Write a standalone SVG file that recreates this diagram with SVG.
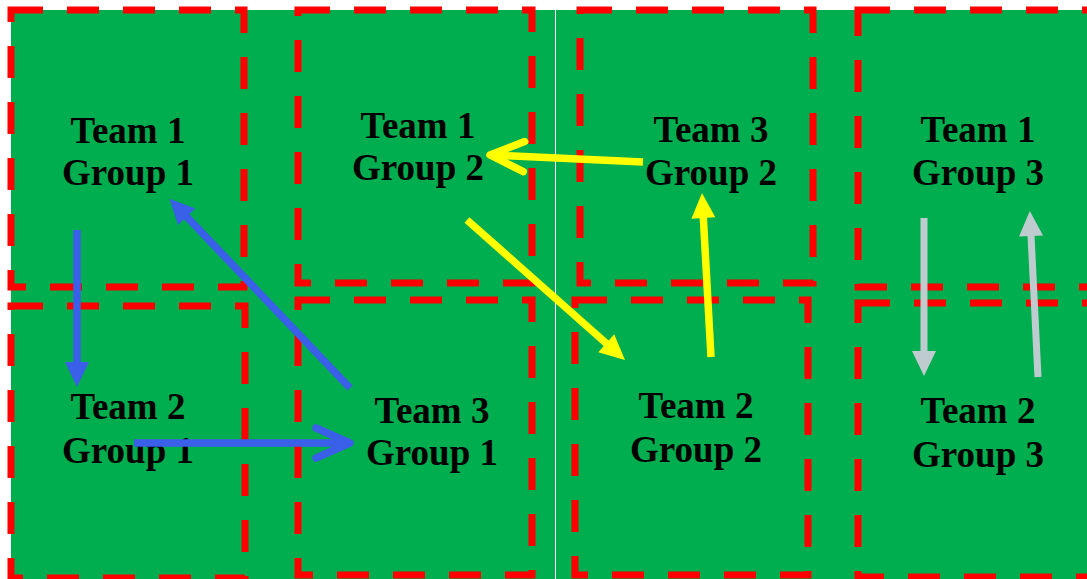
<svg xmlns="http://www.w3.org/2000/svg" width="1087" height="579" viewBox="0 0 1087 579">
<style>
.cell{fill:none;stroke:#FF0000;stroke-width:7;stroke-dasharray:32 24}
.lbl{font-family:"Liberation Serif","Times New Roman",serif;font-weight:bold;font-size:37px;fill:#000;text-anchor:middle}
.blue{stroke:#3A5FE8;stroke-width:7.5;fill:none}
.yel{stroke:#FFFF00;stroke-width:7.5;fill:none}
.gray{stroke:#BFCCCF;stroke-width:7;fill:none}
</style>
<defs>
<marker id="hb" markerUnits="userSpaceOnUse" markerWidth="26" markerHeight="24" refX="1" refY="12" orient="auto" overflow="visible"><path d="M0,0 L25,12 L0,24 z" fill="#3A5FE8"/></marker>
<marker id="hy" markerUnits="userSpaceOnUse" markerWidth="26" markerHeight="24" refX="1" refY="12" orient="auto" overflow="visible"><path d="M0,0 L25,12 L0,24 z" fill="#FFFF00"/></marker>
<marker id="hg" markerUnits="userSpaceOnUse" markerWidth="26" markerHeight="24" refX="1" refY="12" orient="auto" overflow="visible"><path d="M0,0 L25,12 L0,24 z" fill="#BFCCCF"/></marker>
<marker id="cb" markerUnits="userSpaceOnUse" markerWidth="40" markerHeight="36" refX="36" refY="17" orient="auto" overflow="visible"><path d="M2,2 L36,17 L2,32" fill="none" stroke="#3A5FE8" stroke-width="7.5" stroke-linecap="round" stroke-linejoin="round"/></marker>
<marker id="cy" markerUnits="userSpaceOnUse" markerWidth="40" markerHeight="36" refX="36" refY="17" orient="auto" overflow="visible"><path d="M2,2 L36,17 L2,32" fill="none" stroke="#FFFF00" stroke-width="7.5" stroke-linecap="round" stroke-linejoin="round"/></marker>
</defs>
<rect x="0" y="0" width="1087" height="579" fill="#FFFFFF"/>
<rect x="11" y="10" width="1076" height="569" fill="#00AD4F"/>
<line x1="555.5" y1="10" x2="555.5" y2="579" stroke="#FFFFFF" stroke-width="1"/>
<g id="t1g1"><rect class="cell" x="11" y="10" width="233" height="277"/><text class="lbl" x="128" y="143">Team 1</text><text class="lbl" x="128" y="185">Group 1</text></g>
<g id="t1g2"><rect class="cell" x="298" y="10" width="234" height="273"/><text class="lbl" x="418" y="138">Team 1</text><text class="lbl" x="418" y="180">Group 2</text></g>
<g id="t3g2"><rect class="cell" x="580" y="10" width="233" height="273"/><text class="lbl" x="711" y="142">Team 3</text><text class="lbl" x="711" y="185">Group 2</text></g>
<g id="t1g3"><rect class="cell" x="858" y="10" width="240" height="277"/><text class="lbl" x="978" y="142">Team 1</text><text class="lbl" x="978" y="185">Group 3</text></g>
<g id="t2g1"><rect class="cell" x="11" y="306" width="234" height="272"/><text class="lbl" x="128" y="419">Team 2</text><text class="lbl" x="128" y="463">Group 1</text></g>
<g id="t3g1"><rect class="cell" x="298" y="300" width="234" height="275"/><text class="lbl" x="432" y="423">Team 3</text><text class="lbl" x="432" y="465">Group 1</text></g>
<g id="t2g2"><rect class="cell" x="575" y="300" width="233" height="275"/><text class="lbl" x="696" y="418">Team 2</text><text class="lbl" x="696" y="462">Group 2</text></g>
<g id="t2g3"><rect class="cell" x="858" y="303" width="240" height="274"/><text class="lbl" x="978" y="423">Team 2</text><text class="lbl" x="978" y="467">Group 3</text></g>
<g id="connectors">
<line class="blue" x1="77" y1="230" x2="77" y2="363" marker-end="url(#hb)"/>
<line class="blue" x1="350" y1="388" x2="186" y2="216" marker-end="url(#hb)"/>
<line class="blue" x1="134" y1="443" x2="350" y2="443" marker-end="url(#cb)"/>
<line class="yel" x1="643" y1="162" x2="490" y2="155" marker-end="url(#cy)"/>
<line class="yel" x1="467" y1="220" x2="607" y2="344" marker-end="url(#hy)"/>
<line class="yel" x1="711" y1="357" x2="703.3" y2="217" marker-end="url(#hy)"/>
<line class="gray" x1="924" y1="218" x2="924" y2="352" marker-end="url(#hg)"/>
<line class="gray" x1="1038" y1="377" x2="1031" y2="235" marker-end="url(#hg)"/>
</g>
</svg>
